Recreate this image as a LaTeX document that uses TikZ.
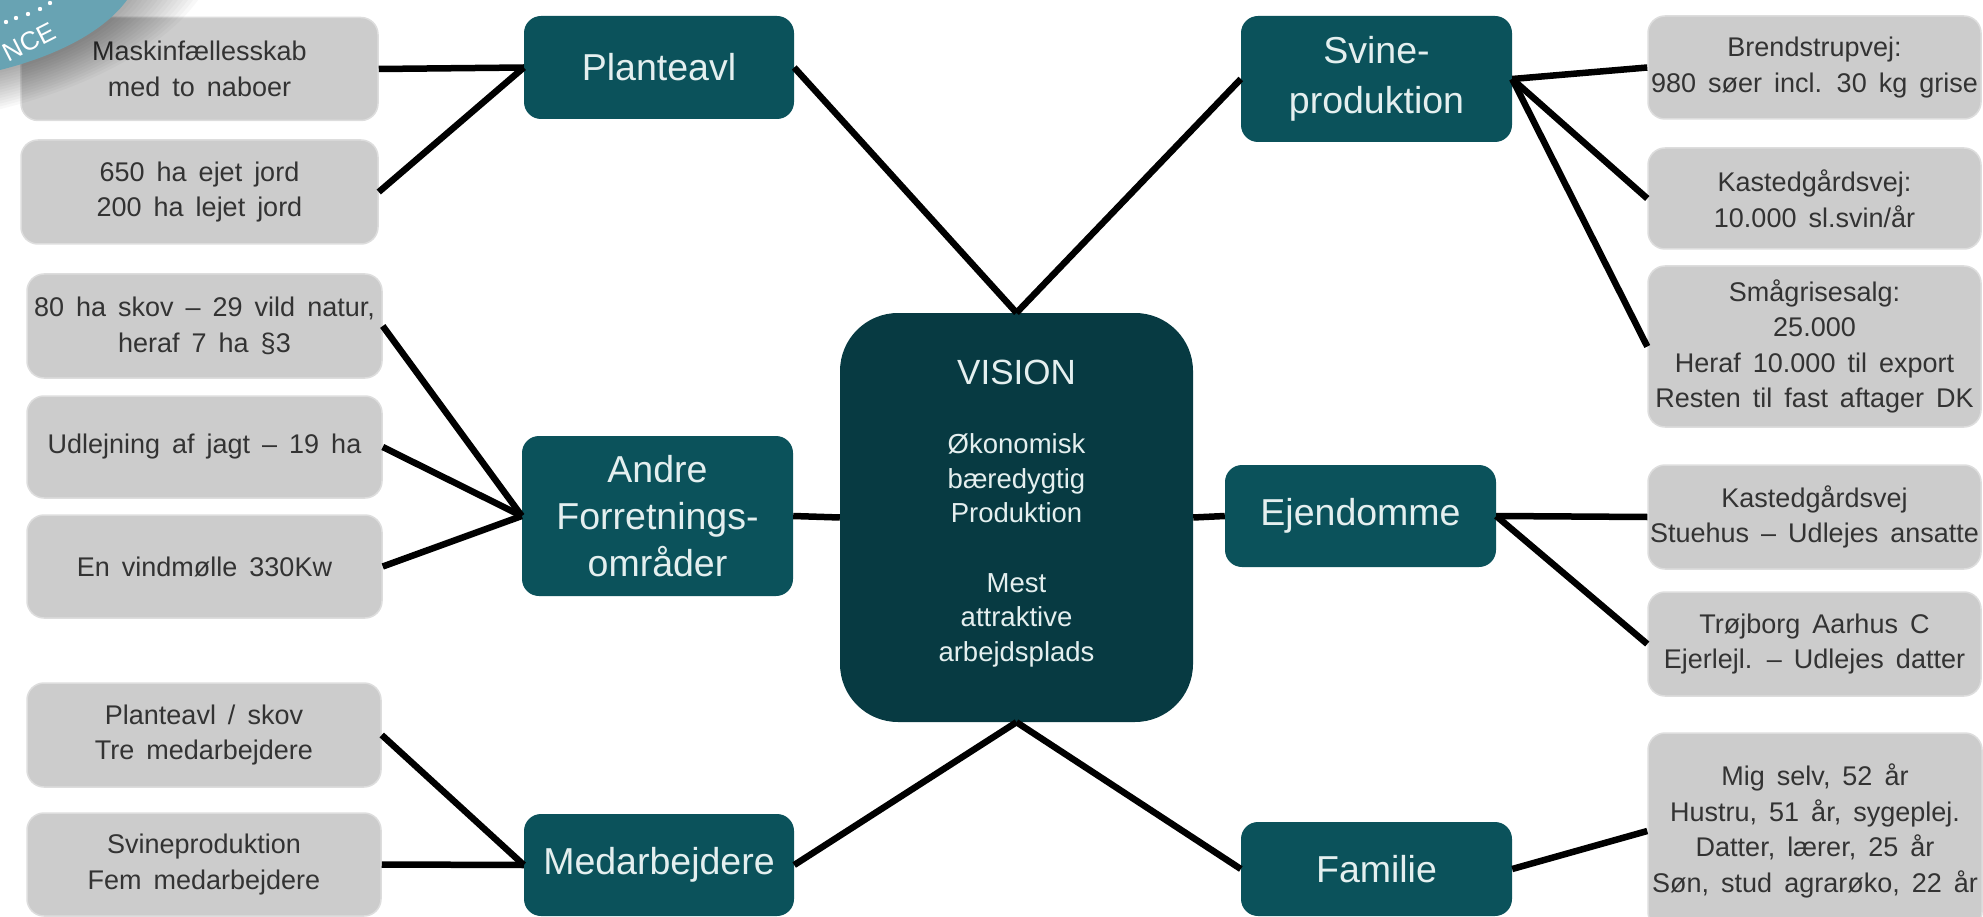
\documentclass[tikz,border=0pt]{standalone}
\usepackage{fontspec}
\setmainfont{Liberation Sans}
\newfontfamily\grayfont[WordSpace=1.6]{Liberation Sans}
\definecolor{graybox}{HTML}{CCCCCC}
\definecolor{grayedge}{HTML}{DDDDDD}
\definecolor{graytext}{HTML}{333333}
\definecolor{tealbox}{HTML}{0B525B}
\definecolor{tealdark}{HTML}{073A42}
\definecolor{tealtext}{HTML}{E4EFEF}
\definecolor{badge}{HTML}{68A3B3}
\tikzset{
  x=1pt,y=-1pt,
  graynode/.style={draw=grayedge,line width=1.5pt,fill=graybox,rounded corners=17pt,inner sep=0pt,align=center,text=graytext,
     font=\grayfont\fontsize{27}{35.5}\selectfont},
  tealnode/.style={fill=tealbox,rounded corners=17pt,inner sep=0pt,align=center,text=tealtext,
     font=\fontsize{37.5}{47}\selectfont},
  link/.style={line width=6.5pt,black},
}
\newcommand{\gbox}[6]{\node[graynode,minimum width=#3pt,minimum height=#4pt] (#5) at (#1,#2) {#6};}
\newcommand{\tbox}[6]{\node[tealnode,minimum width=#3pt,minimum height=#4pt] (#5) at (#1,#2) {#6};}
\newcommand{\lowered}[2]{\raisebox{-#1pt}{#2}}
\begin{document}
\begin{tikzpicture}
\useasboundingbox (0,0) rectangle (1983,917);
% grey boxes, left
\gbox{199.5}{69}{357}{103}{mask}{Maskinfællesskab\\med to naboer}
\gbox{199.5}{192}{357}{104}{jord}{650 ha ejet jord\\200 ha lejet jord}
\gbox{204.5}{326}{355}{104}{skov}{80 ha skov – 29 vild natur,\\heraf 7 ha §3}
\gbox{204.5}{447}{355}{102}{jagt}{Udlejning af jagt – 19 ha}
\gbox{204.5}{566.5}{355}{103}{vind}{En vindmølle 330Kw}
\gbox{204}{735}{354}{104}{plsk}{Planteavl / skov\\Tre medarbejdere}
\gbox{204}{864.5}{354}{103}{svm}{Svineproduktion\\Fem medarbejdere}
% grey boxes, right
\gbox{1814.5}{67.5}{333}{103}{bren}{Brendstrupvej:\\980 søer incl. 30 kg grise}
\gbox{1814.5}{198.5}{333}{101}{kast}{Kastedgårdsvej:\\10.000 sl.svin/år}
\gbox{1814.5}{346.5}{333}{161}{smaa}{Smågrisesalg:\\25.000\\Heraf 10.000 til export\\Resten til fast aftager DK}
\gbox{1814.5}{517}{333}{104}{stue}{Kastedgårdsvej\\Stuehus – Udlejes ansatte}
\gbox{1814.5}{644}{333}{104}{troj}{Trøjborg Aarhus C\\Ejerlejl. – Udlejes datter}
\gbox{1815}{831}{334}{196}{fam}{Mig selv, 52 år\\Hustru, 51 år, sygeplej.\\Datter, lærer, 25 år\\Søn, stud agrarøko, 22 år}
% teal boxes
\tbox{659}{67.5}{270}{103}{plan}{\lowered{2}{Planteavl}}
\tbox{1376.5}{79}{271}{126}{svin}{Svine-\\[3pt]produktion}
\tbox{657.5}{516}{271}{160}{andre}{Andre\\Forretnings-\\områder}
\tbox{1360.5}{516}{271}{102}{ejen}{\lowered{3}{Ejendomme}}
\tbox{659}{865}{270}{102}{med}{Medarbejdere}
\tbox{1376.5}{869}{271}{94}{famil}{\lowered{3}{Familie}}
% centre
\node[fill=tealdark,rounded corners=58pt,minimum width=353pt,minimum height=409pt,inner sep=0pt] (vis) at (1016.5,517.5) {};
\node[text=tealtext,align=center,inner sep=0pt,font=\fontsize{27.5}{34.7}\selectfont] (vistxt) at (1016.5,513.5)
  {{\fontsize{35}{34.7}\selectfont VISION}\\ \\Økonomisk\\bæredygtig\\Produktion\\ \\Mest\\attraktive\\arbejdsplads};
% connectors
\draw[link] (mask.east) -- (plan.west);
\draw[link] (jord.east) -- (plan.west);
\draw[link] (plan.east) -- (vis.north);
\draw[link] (svin.west) -- (vis.north);
\draw[link] (svin.east) -- (bren.west);
\draw[link] (svin.east) -- (kast.west);
\draw[link] (svin.east) -- (smaa.west);
\draw[link] (skov.east) -- (andre.west);
\draw[link] (jagt.east) -- (andre.west);
\draw[link] (vind.east) -- (andre.west);
\draw[link] (andre.east) -- (vis.west);
\draw[link] (vis.east) -- (ejen.west);
\draw[link] (ejen.east) -- (stue.west);
\draw[link] (ejen.east) -- (troj.west);
\draw[link] (plsk.east) -- (med.west);
\draw[link] (svm.east) -- (med.west);
\draw[link] (med.east) -- (vis.south);
\draw[link] (vis.south) -- (famil.west);
\draw[link] (famil.east) -- (fam.west);
% corner badge
\begin{scope}
\clip (0,0) rectangle (1983,917);
\foreach \s in {1.04,1.08,...,1.6}
  \fill[black,opacity=.028] (0,70*\s) .. controls (60*\s,55*\s) and (105*\s,30*\s) .. (127*\s,0) -- (0,0) -- cycle;
\fill[badge] (0,70) .. controls (60,55) and (105,30) .. (127,0) -- (0,0) -- cycle;
\foreach \px/\py in {6/22,16/18,28/14,40/9,50/3}
  \fill[white] (\px,\py) circle (2.2);
\node[text=white,rotate=27,inner sep=0pt,font=\fontsize{26}{30}\selectfont] (nce) at (29,42) {NCE};
\end{scope}
\end{tikzpicture}
\end{document}
